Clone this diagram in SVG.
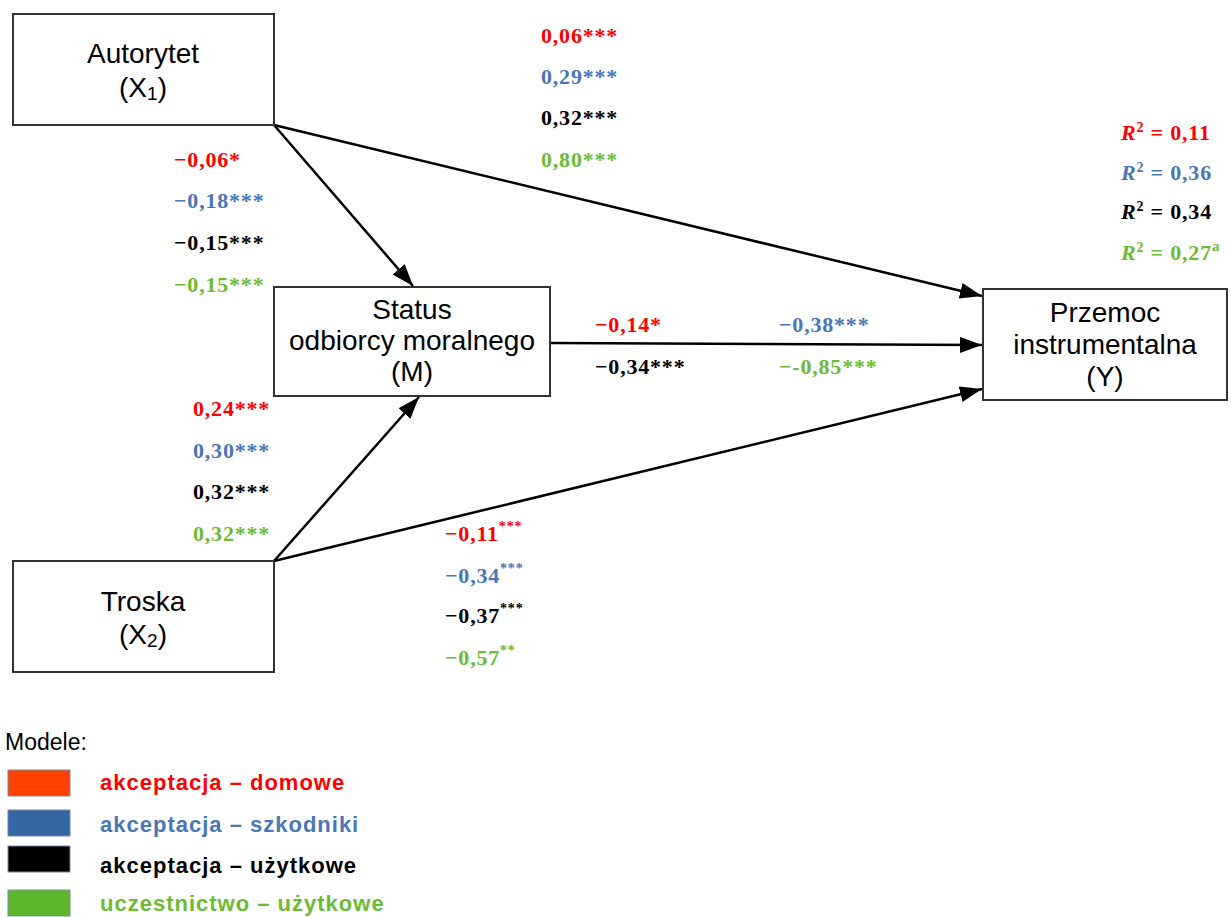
<svg xmlns="http://www.w3.org/2000/svg" width="1231" height="917" viewBox="0 0 1231 917">
<defs>
<marker id="ah" viewBox="0 0 22 16" refX="22" refY="8" markerWidth="22" markerHeight="16" markerUnits="userSpaceOnUse" orient="auto">
<path d="M0,0 L22,8 L0,16 z" fill="#000"/>
</marker>
<style>
.box{fill:#fff;stroke:#333;stroke-width:2}
.nt{font-family:"Liberation Sans",Arial,sans-serif;font-size:28px;fill:#000;text-anchor:middle}
.lb{font-family:"Liberation Serif","Times New Roman",serif;font-size:22px;font-weight:bold;letter-spacing:0.8px}
.r{fill:#ff0000}.b{fill:#4a76b8}.k{fill:#000}.g{fill:#6cbb34}
.lg{font-family:"Liberation Sans",Arial,sans-serif;font-size:22px;font-weight:bold;letter-spacing:1px}
.con{stroke:#000;stroke-width:2.5;fill:none;marker-end:url(#ah)}
</style>
</defs>
<rect width="1231" height="917" fill="#fff"/>
<g id="connectors">
<line class="con" x1="274" y1="125" x2="413" y2="286"/>
<line class="con" x1="274" y1="125" x2="982" y2="296"/>
<line class="con" x1="550" y1="343" x2="982" y2="345"/>
<line class="con" x1="274" y1="561" x2="419" y2="397"/>
<line class="con" x1="274" y1="561" x2="982" y2="389"/>
</g>
<g id="node-x1">
<rect class="box" x="13" y="14" width="261" height="111"/>
<text class="nt" x="143" y="63">Autorytet</text>
<text class="nt" x="143" y="97">(X<tspan font-size="19" dy="3">1</tspan><tspan dy="-3">)</tspan></text>
</g>
<g id="node-m">
<rect class="box" x="274" y="287" width="276" height="109"/>
<text class="nt" x="412" y="319">Status</text>
<text class="nt" x="412" y="350">odbiorcy moralnego</text>
<text class="nt" x="412" y="381">(M)</text>
</g>
<g id="node-x2">
<rect class="box" x="13" y="561" width="261" height="111"/>
<text class="nt" x="143" y="611">Troska</text>
<text class="nt" x="143" y="644">(X<tspan font-size="19" dy="3">2</tspan><tspan dy="-3">)</tspan></text>
</g>
<g id="node-y">
<rect class="box" x="983" y="289" width="244" height="111"/>
<text class="nt" x="1105" y="322">Przemoc</text>
<text class="nt" x="1105" y="354">instrumentalna</text>
<text class="nt" x="1105" y="386">(Y)</text>
</g>
<g id="labels-x1-m">
<text class="lb r" x="174" y="167">−0,06*</text>
<text class="lb b" x="174" y="208">−0,18***</text>
<text class="lb k" x="174" y="250">−0,15***</text>
<text class="lb g" x="174" y="292">−0,15***</text>
</g>
<g id="labels-x1-y">
<text class="lb r" x="541" y="43">0,06***</text>
<text class="lb b" x="541" y="84">0,29***</text>
<text class="lb k" x="541" y="125">0,32***</text>
<text class="lb g" x="541" y="167">0,80***</text>
</g>
<g id="labels-r2">
<text class="lb r" x="1121" y="140"><tspan font-style="italic">R</tspan><tspan font-size="14" dy="-8">2</tspan><tspan dy="8"> = 0,11</tspan></text>
<text class="lb b" x="1121" y="180"><tspan font-style="italic">R</tspan><tspan font-size="14" dy="-8">2</tspan><tspan dy="8"> = 0,36</tspan></text>
<text class="lb k" x="1121" y="219"><tspan font-style="italic">R</tspan><tspan font-size="14" dy="-8">2</tspan><tspan dy="8"> = 0,34</tspan></text>
<text class="lb g" x="1121" y="260"><tspan font-style="italic">R</tspan><tspan font-size="14" dy="-8">2</tspan><tspan dy="8"> = 0,27</tspan><tspan font-size="15" dy="-9">a</tspan></text>
</g>
<g id="labels-m-y">
<text class="lb r" x="595" y="332">−0,14*</text>
<text class="lb b" x="779" y="332">−0,38***</text>
<text class="lb k" x="595" y="374">−0,34***</text>
<text class="lb g" x="779" y="374">−-0,85***</text>
</g>
<g id="labels-x2-m">
<text class="lb r" x="193" y="416">0,24***</text>
<text class="lb b" x="193" y="458">0,30***</text>
<text class="lb k" x="193" y="499">0,32***</text>
<text class="lb g" x="193" y="541">0,32***</text>
</g>
<g id="labels-x2-y">
<text class="lb r" x="445" y="541">−0,11<tspan font-size="14" dy="-10">***</tspan></text>
<text class="lb b" x="445" y="583">−0,34<tspan font-size="14" dy="-10">***</tspan></text>
<text class="lb k" x="445" y="623">−0,37<tspan font-size="14" dy="-10">***</tspan></text>
<text class="lb g" x="445" y="665">−0,57<tspan font-size="14" dy="-10">**</tspan></text>
</g>
<g id="legend">
<text x="5" y="750" font-family="Liberation Sans,Arial,sans-serif" font-size="23" fill="#000">Modele:</text>
<rect x="8" y="770" width="62" height="26" fill="#ff4000" stroke="#7a8aa0" stroke-width="1"/>
<rect x="8" y="810" width="62" height="26" fill="#3465a4" stroke="#7a8aa0" stroke-width="1"/>
<rect x="8" y="846" width="62" height="26" fill="#000" stroke="#7a8aa0" stroke-width="1"/>
<rect x="8" y="890" width="62" height="26" fill="#5cb82a" stroke="#7a8aa0" stroke-width="1"/>
<text class="lg r" x="100" y="790">akceptacja – domowe</text>
<text class="lg b" x="100" y="832">akceptacja – szkodniki</text>
<text class="lg k" x="100" y="873">akceptacja – użytkowe</text>
<text class="lg g" x="100" y="911">uczestnictwo – użytkowe</text>
</g>
</svg>
